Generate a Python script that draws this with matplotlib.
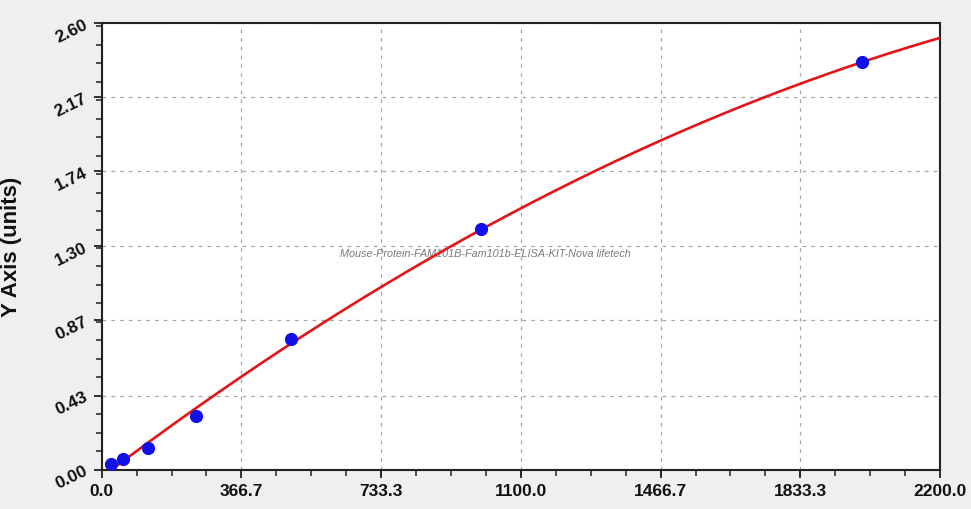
import numpy as np
import matplotlib
matplotlib.use("Agg")
import matplotlib.pyplot as plt
from matplotlib.ticker import FixedLocator, AutoMinorLocator

# Data
conc = [24, 57, 122, 248, 497, 995, 1995]
od = [0.033, 0.062, 0.126, 0.31, 0.762, 1.40, 2.37]
x_ticks = [0.0, 366.7, 733.3, 1100.0, 1466.7, 1833.3, 2200.0]
x_labels = ["0.0", "366.7", "733.3", "1100.0", "1466.7", "1833.3", "2200.0"]
y_ticks = [0.00, 0.43, 0.87, 1.30, 1.74, 2.17, 2.60]
y_labels = ["0.00", "0.43", "0.87", "1.30", "1.74", "2.17", "2.60"]
watermark = "Mouse-Protein-FAM101B-Fam101b-ELISA-KIT-Nova lifetech"
y_title = "Y Axis (units)"

fig = plt.figure(figsize=(9.71, 5.10), dpi=100, facecolor="#efefef")
ax = fig.add_axes([101.7/971, 39.5/510, 838.3/971, 446.5/510])
ax.set_facecolor("white")

# fitted curve (quadratic least squares fit of the standard points)
coef = np.polyfit(conc, od, 2)
xs = np.linspace(0, x_ticks[-1], 400)
ax.plot(xs, np.polyval(coef, xs), color="#e41418", lw=1.9, zorder=3)
ax.plot(conc, od, "o", color="#1010e8", ms=8.5, zorder=4)

ax.set_xlim(x_ticks[0], x_ticks[-1])
ax.set_ylim(y_ticks[0], y_ticks[-1])
ax.xaxis.set_major_locator(FixedLocator(x_ticks))
ax.yaxis.set_major_locator(FixedLocator(y_ticks))
ax.xaxis.set_minor_locator(AutoMinorLocator(4))
ax.yaxis.set_minor_locator(AutoMinorLocator(4))

font = "Liberation Sans"
ax.set_xticklabels(x_labels, fontsize=12.5, fontweight="bold", family=font, color="#111111")
ax.set_yticklabels(y_labels, fontsize=12.5, fontweight="bold", family=font, color="#111111",
                   rotation=26, ha="right", va="center", rotation_mode="anchor")

ax.tick_params(axis="both", which="major", direction="out", length=6, width=1.3, color="#222222")
ax.tick_params(axis="both", which="minor", direction="out", length=4, width=1.1, color="#222222")
ax.tick_params(axis="x", pad=4)
ax.tick_params(axis="y", pad=5)

for s in ax.spines.values():
    s.set_linewidth(1.5)
    s.set_color("#222222")

ax.grid(True, which="major", linestyle=(0, (3, 4)), color="#a8a8a8", lw=0.9)
ax.set_axisbelow(True)

ax.set_ylabel(y_title, fontsize=16, fontweight="bold", family=font, color="#111111", labelpad=22)

ax.text(0.458, 0.486, watermark, transform=ax.transAxes, fontsize=7.8, style="italic",
        family=font, color="#7a7a7a", ha="center", va="center", zorder=2)

fig.savefig("out.png", dpi=100, facecolor=fig.get_facecolor())
